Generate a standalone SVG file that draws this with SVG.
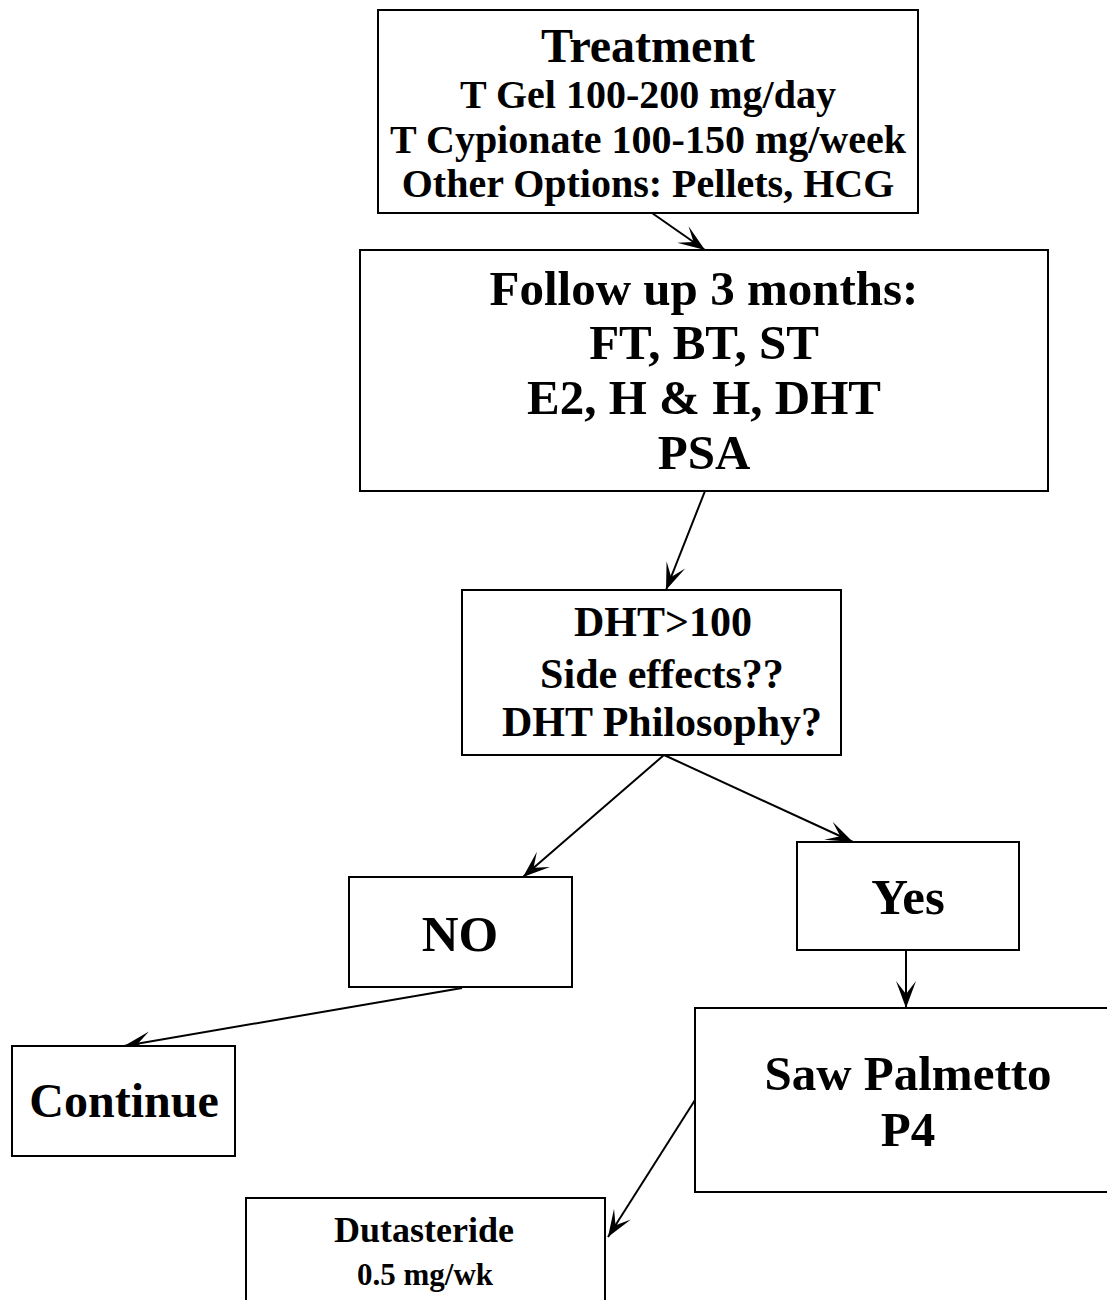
<svg xmlns="http://www.w3.org/2000/svg" width="1107" height="1300" viewBox="0 0 1107 1300">
<style>
.box{fill:#fff;stroke:#000;stroke-width:2}
.t{font-family:"Liberation Serif","Times New Roman",serif;font-weight:bold;fill:#000;text-anchor:middle}
.c{stroke:#000;stroke-width:2;fill:none;marker-end:url(#ah)}
</style>
<defs>
<marker id="ah" markerUnits="userSpaceOnUse" markerWidth="28" markerHeight="22" viewBox="0 0 28 22" refX="27" refY="11" orient="auto">
<path d="M0,1 L27,11 L0,21 L13,11 Z" fill="#000"/>
</marker>
</defs>
<rect width="1107" height="1300" fill="#fff"/>
<g id="connectors">
<line class="c" x1="652" y1="213" x2="705" y2="250"/>
<line class="c" x1="705" y1="491" x2="666" y2="590"/>
<line class="c" x1="664" y1="755" x2="523" y2="877"/>
<line class="c" x1="664" y1="755" x2="853" y2="842"/>
<line class="c" x1="906" y1="950" x2="906" y2="1008"/>
<line class="c" x1="462" y1="988" x2="124" y2="1046"/>
<line class="c" x1="695" y1="1100" x2="608" y2="1237"/>
</g>
<g id="treatment">
<rect class="box" x="378" y="10" width="540" height="203"/>
<text class="t" x="648" y="62" font-size="48">Treatment</text>
<text class="t" x="648" y="108" font-size="40">T Gel 100-200 mg/day</text>
<text class="t" x="648" y="153" font-size="40">T Cypionate 100-150 mg/week</text>
<text class="t" x="648" y="197" font-size="40">Other Options: Pellets, HCG</text>
</g>
<g id="followup">
<rect class="box" x="360" y="250" width="688" height="241"/>
<text class="t" x="704" y="305" font-size="49">Follow up 3 months:</text>
<text class="t" x="704" y="359" font-size="49">FT, BT, ST</text>
<text class="t" x="704" y="414" font-size="49">E2, H &amp; H, DHT</text>
<text class="t" x="704" y="469" font-size="49">PSA</text>
</g>
<g id="dht">
<rect class="box" x="462" y="590" width="379" height="165"/>
<text class="t" x="663" y="636" font-size="42">DHT&gt;100</text>
<text class="t" x="662" y="688" font-size="42">Side effects??</text>
<text class="t" x="662" y="736" font-size="42">DHT Philosophy?</text>
</g>
<g id="no">
<rect class="box" x="349" y="877" width="223" height="110"/>
<text class="t" x="460" y="951" font-size="51">NO</text>
</g>
<g id="yes">
<rect class="box" x="797" y="842" width="222" height="108"/>
<text class="t" x="908" y="914" font-size="51">Yes</text>
</g>
<g id="continue">
<rect class="box" x="12" y="1046" width="223" height="110"/>
<text class="t" x="124" y="1117" font-size="48">Continue</text>
</g>
<g id="sawpalmetto">
<rect class="box" x="695" y="1008" width="420" height="184"/>
<text class="t" x="908" y="1090" font-size="49">Saw Palmetto</text>
<text class="t" x="908" y="1146" font-size="49">P4</text>
</g>
<g id="dutasteride">
<rect class="box" x="246" y="1198" width="359" height="120"/>
<text class="t" x="424" y="1242" font-size="36">Dutasteride</text>
<text class="t" x="425" y="1285" font-size="31">0.5 mg/wk</text>
</g>
</svg>
